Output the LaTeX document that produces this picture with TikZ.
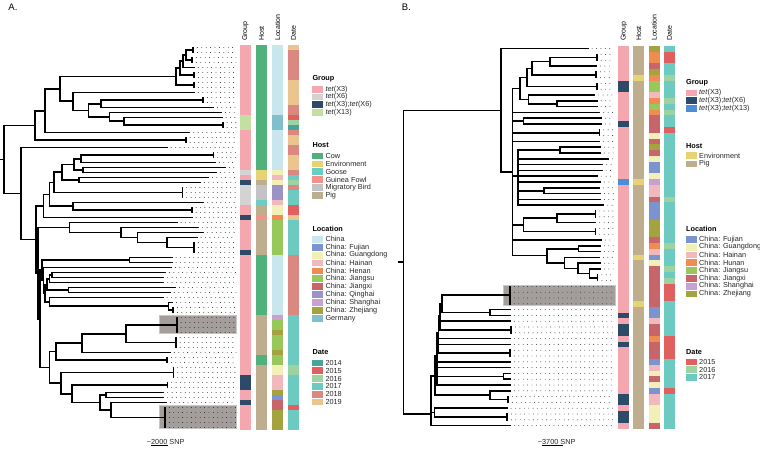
\documentclass[tikz,border=0pt]{standalone}
\usepackage{fontspec}
\setmainfont{Liberation Sans}

\definecolor{gX3}{HTML}{F5A7AF}
\definecolor{gX6}{HTML}{D3D3D3}
\definecolor{gX3X6}{HTML}{2E4A69}
\definecolor{gX13}{HTML}{C4E0A0}
\definecolor{gX3X13}{HTML}{4D8CD6}
\definecolor{hCow}{HTML}{50B27A}
\definecolor{hEnv}{HTML}{E7D373}
\definecolor{hGoose}{HTML}{6CCDC2}
\definecolor{hFowl}{HTML}{F1938B}
\definecolor{hBird}{HTML}{C3C3C7}
\definecolor{hPig}{HTML}{BFAE8D}
\definecolor{lChina}{HTML}{C9E6EC}
\definecolor{lFujian}{HTML}{7B93CE}
\definecolor{lGuangdong}{HTML}{F2F0B6}
\definecolor{lHainan}{HTML}{F1B8BD}
\definecolor{lHenan}{HTML}{F08C52}
\definecolor{lHunan}{HTML}{F08C52}
\definecolor{lJiangsu}{HTML}{98C75B}
\definecolor{lJiangxi}{HTML}{C7656A}
\definecolor{lQinghai}{HTML}{9B92C6}
\definecolor{lShanghai}{HTML}{C9A1D0}
\definecolor{lZhejiang}{HTML}{A5A33F}
\definecolor{lGermany}{HTML}{82BFCC}
\definecolor{dA}{HTML}{48A49B}
\definecolor{dB}{HTML}{E05F5F}
\definecolor{dC}{HTML}{9CD3A0}
\definecolor{dD}{HTML}{6DCAC0}
\definecolor{dE}{HTML}{DA8880}
\definecolor{dF}{HTML}{EAC58F}
\definecolor{boxgrey}{HTML}{A39E9C}

% row r of the current panel -> y in px
\newcommand{\rowy}[1]{\ybase+\pitch*(#1)-\pitch/2}
\newcommand{\vbr}[3]{\draw[treeline] ({#1},{\rowy{#2}}) -- ({#1},{\rowy{#3}});}
\newcommand{\hbr}[3]{\draw[treeline] ({#1},{\rowy{#3}}) -- ({#2},{\rowy{#3}});}
\newcommand{\tipdots}[2]{\draw[leafdots] ({#1},{\rowy{#2}}) -- ({\dotend},{\rowy{#2}});}
\newcommand{\twig}[3]{\hbr{#1}{#2}{#3}\tipdots{#2}{#3}}
\newcommand{\bundle}[4]{\hbr{#1}{#2}{(#3+#4)/2}\vbr{#2}{#3}{#4}%
  \foreach \rr in {#3,...,#4}{\tipdots{#2}{\rr}}}
\newcommand{\cellfill}[4]{\fill[#4] ({#1},{\ybase+\pitch*(#2-1)}) rectangle ({#1+11},{\ybase+\pitch*(#3)});}
\newcommand{\legkey}[5]{\fill[#4] ({#2},{#3-3.4}) rectangle ({#2+11},{#3+3.4});
  \node[legtext] (#1) at ({#2+13},{#3}) {#5};}

\begin{document}
\begin{tikzpicture}[x=1pt, y=-1pt,
  treeline/.style={line width=1.6pt, line cap=rect},
  leafdots/.style={line width=0.9pt, dash pattern=on 0pt off 4.4pt, line cap=round, black!85},
  colhead/.style={rotate=90, anchor=west, inner sep=0pt, font=\fontsize{7}{8}\selectfont},
  legtext/.style={anchor=west, inner sep=0pt, text=black!85, font=\fontsize{7.3}{8}\selectfont},
  legtitle/.style={anchor=west, inner sep=0pt, font=\fontsize{7.3}{8}\selectfont\bfseries},
  panel/.style={anchor=base west, inner sep=0pt, font=\fontsize{9.5}{10}\selectfont},
  shade/.style={fill=boxgrey, draw=black!22, line width=0.8pt}]
\useasboundingbox (0,0) rectangle (760,448);

%%%%%%%% panel A
\def\ybase{45}
\def\pitch{5}
\def\dotend{236}
\node[panel] (labA) at (8.3,10) {A.};

\draw[shade] (159.3,315) rectangle (236.7,333.3);
\draw[shade] (159.3,405.7) rectangle (236.7,428.3);

% tree A
\hbr{0.5}{4}{23.4}
\vbr{4}{16.6}{30.2}
\hbr{4}{35}{16.6}
\hbr{4}{20.7}{30.2}
\vbr{35}{13.65}{19.5}
\hbr{35}{45}{13.65}
\bundle{35}{185.7}{19}{20}
\vbr{45}{9.3}{18}
\hbr{45}{60}{9.3}
\twig{45}{189.3}{18}
\vbr{60}{6.8}{11.75}
\hbr{60}{176}{6.8}
\hbr{60}{72.7}{11.75}
\vbr{176}{5.1}{8.5}
\hbr{176}{180}{5.1}
\bundle{176}{194}{8}{9}
\vbr{180}{3.75}{6.5}
\hbr{180}{183}{3.75}
\bundle{180}{194}{6}{7}
\vbr{183}{2.5}{5}
\hbr{183}{186}{2.5}
\twig{183}{194}{5}
\vbr{186}{1.5}{3.5}
\bundle{186}{193}{1}{2}
\bundle{186}{192}{3}{4}
\vbr{72.7}{10}{13.6}
\twig{72.7}{194}{10}
\hbr{72.7}{88.3}{13.6}
\vbr{88.3}{12.25}{14.9}
\hbr{88.3}{101}{12.25}
\hbr{88.3}{109.3}{14.9}
\vbr{101}{11.5}{13}
\bundle{101}{203}{11}{12}
\twig{101}{213}{13}
\vbr{109.3}{14}{15.75}
\twig{109.3}{221}{14}
\hbr{109.3}{124}{15.75}
\vbr{124}{15}{16.5}
\twig{124}{221.7}{15}
\bundle{124}{222.7}{16}{17}
\vbr{20.7}{21}{39.4}
\twig{20.7}{166.7}{21}
\hbr{20.7}{36}{39.4}
\vbr{36}{32.7}{46.1}
\hbr{36}{43.3}{32.7}
\hbr{36}{38}{46.1}
\vbr{43.3}{30.4}{35}
\hbr{43.3}{49.3}{30.4}
\twig{43.3}{191.7}{35}
\vbr{49.3}{28}{32.75}
\hbr{49.3}{54}{28}
\hbr{49.3}{72.7}{32.75}
\vbr{54}{25.95}{30}
\hbr{54}{61.7}{25.95}
\bundle{54}{182.3}{29}{31}
\vbr{61.7}{24.4}{27.5}
\hbr{61.7}{74}{24.4}
\hbr{61.7}{79}{27.5}
\vbr{74}{23.25}{25.5}
\hbr{74}{81}{23.25}
\hbr{74}{82.7}{25.5}
\vbr{81}{22.5}{24}
\bundle{81}{213.3}{22}{23}
\twig{81}{215}{24}
\vbr{82.7}{25}{26}
\twig{82.7}{225}{25}
\twig{82.7}{216}{26}
\vbr{79}{27}{28}
\twig{79}{208}{27}
\twig{79}{200}{28}
\vbr{72.7}{32}{33.5}
\twig{72.7}{203.3}{32}
\bundle{72.7}{191.7}{33}{34}
\vbr{38}{37}{55.25}
\hbr{38}{69.3}{37}
\hbr{38}{40}{55.25}
\vbr{69.3}{36}{38}
\twig{69.3}{176.7}{36}
\hbr{69.3}{120.7}{38}
\vbr{120.7}{37}{39}
\twig{120.7}{198.3}{37}
\hbr{120.7}{137.3}{39}
\vbr{137.3}{38}{40}
\twig{137.3}{203.3}{38}
\hbr{137.3}{166.7}{40}
\vbr{166.7}{39}{41}
\twig{166.7}{196.7}{39}
\bundle{166.7}{194}{40}{42}
\vbr{40}{45.5}{65}
\hbr{40}{41.7}{45.5}
\hbr{40}{49.3}{65}
\vbr{41.7}{43.5}{47.6}
\hbr{41.7}{129.3}{43.5}
\hbr{41.7}{43.3}{47.6}
\vbr{129.3}{43}{44}
\twig{129.3}{171.7}{43}
\twig{129.3}{171.7}{44}
\vbr{43.3}{45}{50.1}
\twig{43.3}{171}{45}
\hbr{43.3}{45}{50.1}
\vbr{45}{48.4}{51.9}
\hbr{45}{46.7}{48.4}
\hbr{45}{49.3}{51.9}
\vbr{46.7}{47.25}{49.5}
\hbr{46.7}{49.3}{47.25}
\hbr{46.7}{68.3}{49.5}
\vbr{49.3}{46.5}{48}
\hbr{49.3}{51.7}{46.5}
\twig{49.3}{163.3}{48}
\vbr{51.7}{46}{47}
\twig{51.7}{165}{46}
\twig{51.7}{163.3}{47}
\vbr{68.3}{49}{50}
\twig{68.3}{175}{49}
\twig{68.3}{170}{50}
\vbr{49.3}{51}{52.75}
\twig{49.3}{162.7}{51}
\hbr{49.3}{168.3}{52.75}
\vbr{168.3}{52}{53.5}
\twig{168.3}{172}{52}
\bundle{168.3}{173}{53}{54}
\vbr{49.3}{61.8}{68.1}
\hbr{49.3}{56}{61.8}
\hbr{49.3}{61}{68.1}
\vbr{56}{60.1}{63.5}
\hbr{56}{81.7}{60.1}
\bundle{56}{167}{63}{64}
\vbr{81.7}{58.25}{62}
\hbr{81.7}{126}{58.25}
\twig{81.7}{170}{62}
\vbr{126}{56.5}{60}
\bundle{126}{176.7}{55}{58}
\bundle{126}{175.7}{59}{61}
\vbr{61}{66}{70.25}
\bundle{61}{173.3}{65}{67}
\hbr{61}{71.7}{70.25}
\vbr{71.7}{68.5}{72}
\bundle{71.7}{167.3}{68}{69}
\hbr{71.7}{100}{72}
\vbr{100}{70.5}{73.5}
\hbr{100}{106}{70.5}
\hbr{100}{111}{73.5}
\vbr{106}{70}{71}
\twig{106}{163.3}{70}
\twig{106}{163.3}{71}
\vbr{111}{72}{75}
\twig{111}{166}{72}
\bundle{111}{165}{73}{77}

% heatmap A
\def\xg{240}
\def\xh{256}
\def\xl{272}
\def\xd{288}
\cellfill{\xg}{1}{77}{gX3}
\cellfill{\xg}{15}{17}{gX13}
\cellfill{\xg}{26}{26}{gX6}
\cellfill{\xg}{28}{28}{gX3X6}
\cellfill{\xg}{29}{32}{gX6}
\cellfill{\xg}{35}{35}{gX3X6}
\cellfill{\xg}{42}{42}{gX3X6}
\cellfill{\xg}{67}{69}{gX3X6}
\cellfill{\xg}{72}{72}{gX3X6}

\cellfill{\xh}{1}{77}{hPig}
\cellfill{\xh}{1}{25}{hCow}
\cellfill{\xh}{26}{27}{hEnv}
\cellfill{\xh}{29}{31}{hBird}
\cellfill{\xh}{32}{32}{hGoose}
\cellfill{\xh}{35}{35}{hFowl}
\cellfill{\xh}{43}{54}{hCow}
\cellfill{\xh}{63}{64}{hCow}

\cellfill{\xl}{1}{77}{lChina}
\cellfill{\xl}{15}{17}{lGermany}
\cellfill{\xl}{26}{26}{lGuangdong}
\cellfill{\xl}{27}{27}{lHainan}
\cellfill{\xl}{28}{28}{lGuangdong}
\cellfill{\xl}{29}{31}{lQinghai}
\cellfill{\xl}{32}{32}{lHainan}
\cellfill{\xl}{33}{34}{lGuangdong}
\cellfill{\xl}{35}{35}{lHenan}
\cellfill{\xl}{36}{42}{lJiangsu}
\cellfill{\xl}{55}{55}{lShanghai}
\cellfill{\xl}{56}{57}{lJiangsu}
\cellfill{\xl}{58}{58}{lZhejiang}
\cellfill{\xl}{59}{61}{lJiangsu}
\cellfill{\xl}{62}{62}{lZhejiang}
\cellfill{\xl}{63}{64}{lJiangsu}
\cellfill{\xl}{65}{66}{lGuangdong}
\cellfill{\xl}{67}{69}{lHainan}
\cellfill{\xl}{70}{70}{lZhejiang}
\cellfill{\xl}{71}{71}{lFujian}
\cellfill{\xl}{72}{73}{lJiangxi}
\cellfill{\xl}{74}{77}{lZhejiang}

\cellfill{\xd}{1}{77}{dD}
\cellfill{\xd}{1}{1}{dF}
\cellfill{\xd}{2}{7}{dE}
\cellfill{\xd}{8}{12}{dF}
\cellfill{\xd}{13}{14}{dE}
\cellfill{\xd}{15}{15}{dB}
\cellfill{\xd}{16}{16}{dC}
\cellfill{\xd}{17}{17}{dA}
\cellfill{\xd}{18}{18}{dE}
\cellfill{\xd}{19}{20}{dF}
\cellfill{\xd}{21}{22}{dE}
\cellfill{\xd}{23}{25}{dF}
\cellfill{\xd}{26}{26}{dE}
\cellfill{\xd}{28}{28}{dC}
\cellfill{\xd}{29}{29}{dE}
\cellfill{\xd}{33}{34}{dB}
\cellfill{\xd}{35}{35}{dF}
\cellfill{\xd}{43}{54}{dE}
\cellfill{\xd}{65}{66}{dC}
\cellfill{\xd}{73}{73}{dB}

\node[colhead] (hdGroupA) at (245.5,41) {Group};
\node[colhead] (hdHostA) at (261.5,41) {Host};
\node[colhead] (hdLocA) at (277.5,41) {Location};
\node[colhead] (hdDateA) at (293.5,41) {Date};

% legends A
\node[legtitle] (tGroupA) at (312.3,78.3) {Group};
\legkey{gA1}{312.3}{89.3}{gX3}{\textit{tet}(X3)}
\legkey{gA2}{312.3}{97}{gX6}{\textit{tet}(X6)}
\legkey{gA3}{312.3}{104.7}{gX3X6}{\textit{tet}(X3);\textit{tet}(X6)}
\legkey{gA4}{312.3}{112.4}{gX13}{\textit{tet}(X13)}
\node[legtitle] (tHostA) at (312.3,145.3) {Host};
\legkey{hA1}{312.3}{156}{hCow}{Cow}
\legkey{hA2}{312.3}{163.9}{hEnv}{Environment}
\legkey{hA3}{312.3}{171.8}{hGoose}{Goose}
\legkey{hA4}{312.3}{179.7}{hFowl}{Guinea Fowl}
\legkey{hA5}{312.3}{187.6}{hBird}{Migratory Bird}
\legkey{hA6}{312.3}{195.5}{hPig}{Pig}
\node[legtitle] (tLocA) at (312.3,229.3) {Location};
\legkey{lA1}{312.3}{239.3}{lChina}{China}
\legkey{lA2}{312.3}{247.2}{lFujian}{China: Fujian}
\legkey{lA3}{312.3}{255.1}{lGuangdong}{China: Guangdong}
\legkey{lA4}{312.3}{263}{lHainan}{China: Hainan}
\legkey{lA5}{312.3}{270.9}{lHenan}{China: Henan}
\legkey{lA6}{312.3}{278.8}{lJiangsu}{China: Jiangsu}
\legkey{lA7}{312.3}{286.7}{lJiangxi}{China: Jiangxi}
\legkey{lA8}{312.3}{294.6}{lQinghai}{China: Qinghai}
\legkey{lA9}{312.3}{302.5}{lShanghai}{China: Shanghai}
\legkey{lA10}{312.3}{310.4}{lZhejiang}{China: Zhejiang}
\legkey{lA11}{312.3}{318.3}{lGermany}{Germany}
\node[legtitle] (tDateA) at (312.3,352) {Date};
\legkey{dA1}{312.3}{363}{dA}{2014}
\legkey{dA2}{312.3}{370.8}{dB}{2015}
\legkey{dA3}{312.3}{378.6}{dC}{2016}
\legkey{dA4}{312.3}{386.4}{dD}{2017}
\legkey{dA5}{312.3}{394.2}{dE}{2018}
\legkey{dA6}{312.3}{402}{dF}{2019}

\node[legtext, anchor=base west] (scaleA) at (146.7,444) {\textasciitilde 2000 SNP};
\draw[line width=0.6pt] (151,445.6) -- (168,445.6);

%%%%%%%% panel B
\def\ybase{45.7}
\def\pitch{5.8}
\def\dotend{613.3}
\node[panel] (labB) at (401.7,10) {B.};

\draw[shade] (503.7,285) rectangle (615,305.7);

% tree B
\hbr{398.3}{403.3}{37.8}
\vbr{403.3}{11.65}{64}
\hbr{403.3}{501}{11.65}
\hbr{403.3}{431}{64}
\vbr{501}{1}{22.3}
\twig{501}{587.7}{1}
\hbr{501}{512.3}{22.3}
\vbr{512.3}{7.85}{36.7}
\hbr{512.3}{520}{7.85}
\twig{512.3}{599.3}{12}
\hbr{512.3}{523.3}{13.5}
\bundle{512.3}{599.3}{15}{16}
\twig{512.3}{599.3}{17}
\hbr{512.3}{517.7}{23}
\hbr{512.3}{523.3}{31.4}
\twig{512.3}{601}{34}
\hbr{512.3}{546.7}{36.7}
\vbr{520}{5.95}{9.75}
\hbr{520}{526.7}{5.95}
\hbr{520}{528.3}{9.75}
\vbr{526.7}{4.4}{7.5}
\hbr{526.7}{531.7}{4.4}
\bundle{526.7}{596.7}{7}{8}
\vbr{531.7}{3.25}{5.5}
\hbr{531.7}{550}{3.25}
\bundle{531.7}{596}{5}{6}
\vbr{550}{2.5}{4}
\bundle{550}{596.7}{2}{3}
\twig{550}{596}{4}
\vbr{528.3}{9}{10.5}
\twig{528.3}{594.3}{9}
\hbr{528.3}{556.7}{10.5}
\vbr{556.7}{10}{11}
\twig{556.7}{596.7}{10}
\twig{556.7}{596.7}{11}
\vbr{523.3}{13}{14}
\twig{523.3}{601}{13}
\twig{523.3}{601}{14}
\vbr{517.7}{18.5}{28}
\hbr{517.7}{560}{18.5}
\twig{517.7}{608.3}{20}
\twig{517.7}{602.3}{21}
\twig{517.7}{601.7}{22}
\twig{517.7}{597.3}{23}
\twig{517.7}{600}{24}
\hbr{517.7}{544}{25.5}
\twig{517.7}{600}{27}
\twig{517.7}{603.3}{28}
\vbr{560}{18}{19}
\twig{560}{600}{18}
\twig{560}{600}{19}
\vbr{544}{25}{26}
\twig{544}{599.3}{25}
\twig{544}{600}{26}
\vbr{523.3}{30.25}{32.5}
\hbr{523.3}{556.7}{30.25}
\bundle{523.3}{595.3}{32}{33}
\vbr{556.7}{29.5}{31}
\bundle{556.7}{595.3}{29}{30}
\twig{556.7}{595.3}{31}
\vbr{546.7}{35.5}{37.95}
\hbr{546.7}{578.3}{35.5}
\hbr{546.7}{564.3}{37.95}
\vbr{578.3}{35}{36}
\twig{578.3}{600}{35}
\twig{578.3}{600}{36}
\vbr{564.3}{37}{38.9}
\twig{564.3}{599}{37}
\hbr{564.3}{577.7}{38.9}
\vbr{577.7}{38}{39.75}
\twig{577.7}{600}{38}
\hbr{577.7}{589.3}{39.75}
\vbr{589.3}{39}{40.5}
\twig{589.3}{600}{39}
\bundle{589.3}{597.5}{40}{41}
\vbr{431}{57.4}{66}
\hbr{431}{435}{57.4}
\hbr{431}{434.3}{63.75}
\twig{431}{510}{66}
\vbr{434.3}{63}{64.5}
\twig{434.3}{506.7}{63}
\bundle{434.3}{507}{64}{65}
\vbr{435}{54}{60.75}
\hbr{435}{436.7}{54}
\hbr{435}{490}{60.75}
\vbr{490}{60}{61.5}
\twig{490}{510}{60}
\bundle{490}{508}{61}{62}
\vbr{436.7}{50}{59}
\hbr{436.7}{438.3}{50}
\twig{436.7}{510}{55}
\twig{436.7}{510}{56}
\hbr{436.7}{503.3}{57.5}
\twig{436.7}{510}{59}
\vbr{503.3}{57}{58}
\twig{503.3}{510}{57}
\twig{503.3}{510}{58}
\vbr{438.3}{47}{53.5}
\hbr{438.3}{440}{47}
\twig{438.3}{510}{51}
\twig{438.3}{510}{52}
\bundle{438.3}{510}{53}{54}
\vbr{440}{45}{49.5}
\hbr{440}{441.7}{45}
\twig{440}{510}{48}
\bundle{440}{511}{49}{50}
\vbr{441.7}{43.5}{46.5}
\bundle{441.7}{510}{42}{45}
\hbr{441.7}{490}{46.5}
\vbr{490}{46}{47}
\twig{490}{510}{46}
\twig{490}{510}{47}

% heatmap B
\def\xg{618.3}
\def\xh{633.3}
\def\xl{648.7}
\def\xd{664}
\cellfill{\xg}{1}{66}{gX3}
\cellfill{\xg}{7}{8}{gX3X6}
\cellfill{\xg}{14}{14}{gX3X6}
\cellfill{\xg}{24}{24}{gX3X13}
\cellfill{\xg}{47}{47}{gX3X6}
\cellfill{\xg}{49}{50}{gX3X6}
\cellfill{\xg}{52}{52}{gX3X6}
\cellfill{\xg}{61}{62}{gX3X6}
\cellfill{\xg}{64}{65}{gX3X6}

\cellfill{\xh}{1}{66}{hPig}
\cellfill{\xh}{6}{6}{hEnv}
\cellfill{\xh}{24}{24}{hEnv}
\cellfill{\xh}{37}{37}{hEnv}
\cellfill{\xh}{45}{45}{hEnv}

\cellfill{\xl}{1}{66}{lJiangxi}
\cellfill{\xl}{1}{1}{lZhejiang}
\cellfill{\xl}{2}{3}{lHunan}
\cellfill{\xl}{5}{5}{lZhejiang}
\cellfill{\xl}{6}{6}{lHunan}
\cellfill{\xl}{7}{8}{lJiangsu}
\cellfill{\xl}{9}{9}{lHainan}
\cellfill{\xl}{10}{10}{lHunan}
\cellfill{\xl}{11}{11}{lJiangsu}
\cellfill{\xl}{12}{12}{lHunan}
\cellfill{\xl}{16}{16}{lGuangdong}
\cellfill{\xl}{18}{18}{lZhejiang}
\cellfill{\xl}{20}{20}{lGuangdong}
\cellfill{\xl}{21}{22}{lFujian}
\cellfill{\xl}{23}{23}{lGuangdong}
\cellfill{\xl}{24}{24}{lShanghai}
\cellfill{\xl}{25}{26}{lHainan}
\cellfill{\xl}{28}{30}{lFujian}
\cellfill{\xl}{31}{33}{lZhejiang}
\cellfill{\xl}{35}{35}{lHunan}
\cellfill{\xl}{36}{36}{lHainan}
\cellfill{\xl}{37}{37}{lFujian}
\cellfill{\xl}{38}{38}{lGuangdong}
\cellfill{\xl}{46}{47}{lFujian}
\cellfill{\xl}{48}{48}{lHainan}
\cellfill{\xl}{51}{51}{lHunan}
\cellfill{\xl}{55}{55}{lFujian}
\cellfill{\xl}{56}{56}{lHainan}
\cellfill{\xl}{57}{57}{lGuangdong}
\cellfill{\xl}{59}{59}{lGuangdong}
\cellfill{\xl}{60}{60}{lFujian}
\cellfill{\xl}{61}{62}{lHainan}
\cellfill{\xl}{63}{65}{lGuangdong}

\cellfill{\xd}{1}{66}{dD}
\cellfill{\xd}{2}{3}{dB}
\cellfill{\xd}{6}{6}{dC}
\cellfill{\xd}{10}{10}{dC}
\cellfill{\xd}{12}{12}{dC}
\cellfill{\xd}{15}{15}{dB}
\cellfill{\xd}{27}{27}{dC}
\cellfill{\xd}{35}{35}{dC}
\cellfill{\xd}{39}{39}{dC}
\cellfill{\xd}{41}{41}{dC}
\cellfill{\xd}{42}{44}{dB}
\cellfill{\xd}{51}{54}{dB}
\cellfill{\xd}{60}{60}{dB}

\node[colhead] (hdGroupB) at (623.8,41) {Group};
\node[colhead] (hdHostB) at (638.8,41) {Host};
\node[colhead] (hdLocB) at (654.2,41) {Location};
\node[colhead] (hdDateB) at (669.5,41) {Date};

% legends B
\node[legtitle] (tGroupB) at (686,82.3) {Group};
\legkey{gB1}{686}{93}{gX3}{\textit{tet}(X3)}
\legkey{gB2}{686}{100.7}{gX3X6}{\textit{tet}(X3);\textit{tet}(X6)}
\legkey{gB3}{686}{108.4}{gX3X13}{\textit{tet}(X3);\textit{tet}(X13)}
\node[legtitle] (tHostB) at (686,145.7) {Host};
\legkey{hB1}{686}{155.4}{hEnv}{Environment}
\legkey{hB2}{686}{163.9}{hPig}{Pig}
\node[legtitle] (tLocB) at (686,228.7) {Location};
\legkey{lB1}{686}{239.3}{lFujian}{China: Fujian}
\legkey{lB2}{686}{247.1}{lGuangdong}{China: Guangdong}
\legkey{lB3}{686}{254.9}{lHainan}{China: Hainan}
\legkey{lB4}{686}{262.7}{lHunan}{China: Hunan}
\legkey{lB5}{686}{270.5}{lJiangsu}{China: Jiangsu}
\legkey{lB6}{686}{278.3}{lJiangxi}{China: Jiangxi}
\legkey{lB7}{686}{286.1}{lShanghai}{China: Shanghai}
\legkey{lB8}{686}{293.9}{lZhejiang}{China: Zhejiang}
\node[legtitle] (tDateB) at (686,351.7) {Date};
\legkey{dB1}{686}{362}{dB}{2015}
\legkey{dB2}{686}{369.7}{dC}{2016}
\legkey{dB3}{686}{377.4}{dD}{2017}

\node[legtext, anchor=base west] (scaleB) at (537.7,444) {\textasciitilde 3700 SNP};
\draw[line width=0.6pt] (541.7,445.6) -- (563.3,445.6);
\end{tikzpicture}
\end{document}
